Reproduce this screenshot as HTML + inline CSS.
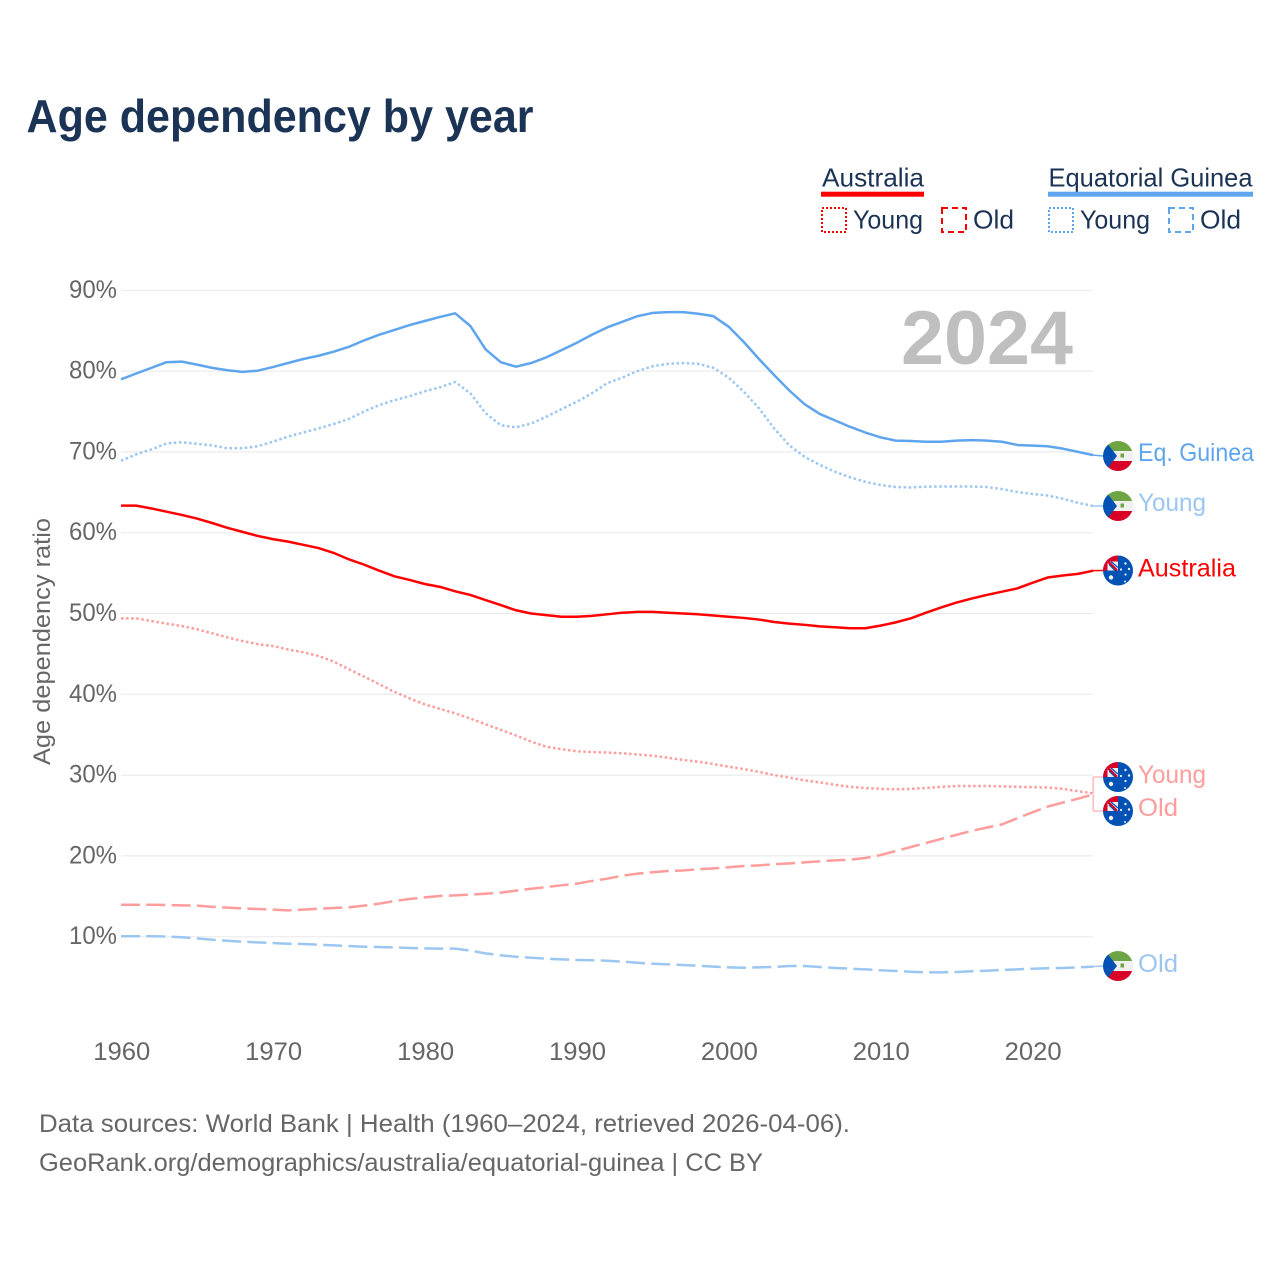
<!DOCTYPE html>
<html lang="en">
<head>
<meta charset="utf-8">
<title>Age dependency by year</title>
<style>
html,body{margin:0;padding:0;background:#fff;}
svg{display:block;}
text{font-family:"Liberation Sans",sans-serif;}
</style>
</head>
<body>
<svg id="chart" xmlns="http://www.w3.org/2000/svg" width="1280" height="1280" viewBox="0 0 1280 1280">
  <defs>
    <clipPath id="flag-clip"><circle cx="0" cy="0" r="15"></circle></clipPath>
    <symbol id="flag-eq" overflow="visible">
      <g clip-path="url(#flag-clip)">
        <rect x="-15" y="-15" width="30" height="10" fill="#6da544"></rect>
        <rect x="-15" y="-5" width="30" height="10" fill="#f0f0f0"></rect>
        <rect x="-15" y="5" width="30" height="10" fill="#d80027"></rect>
        <polygon points="-15,-15 -11,-13 -1,0 -11,13 -15,15" fill="#0052b4"></polygon>
        <rect x="2.5" y="-2.5" width="3.5" height="4" fill="#6da544"></rect>
      </g>
    </symbol>
    <symbol id="flag-au" overflow="visible">
      <g clip-path="url(#flag-clip)">
        <rect x="-15" y="-15" width="30" height="30" fill="#0052b4"></rect>
        <rect x="-15" y="-15" width="15" height="15" fill="#f0f0f0"></rect>
        <rect x="-15" y="-15" width="15" height="6" fill="#d80027"></rect>
        <rect x="-15" y="-15" width="4.5" height="15" fill="#d80027"></rect>
        <path d="M-10,-9 L-1,0" stroke="#d80027" stroke-width="2.5"></path>
        <path d="M-7,-9 L0,-3 M-9,-6 L-3,0" stroke="#0052b4" stroke-width="1.2"></path>
        <circle cx="-7" cy="7" r="2.2" fill="#f0f0f0"></circle>
        <circle cx="3" cy="-1" r="1.1" fill="#f0f0f0"></circle>
        <circle cx="7.5" cy="-7" r="1.2" fill="#f0f0f0"></circle>
        <circle cx="11" cy="-1.5" r="1.2" fill="#f0f0f0"></circle>
        <circle cx="7.5" cy="4" r="1.1" fill="#f0f0f0"></circle>
        <circle cx="7" cy="11" r="1" fill="#f0f0f0"></circle>
      </g>
    </symbol>
  </defs>

  <rect x="0" y="0" width="1280" height="1280" fill="#ffffff"></rect>

  <text x="26.5" y="132" font-size="46" font-weight="700" fill="#1b3354" textLength="507" lengthAdjust="spacingAndGlyphs">Age dependency by year</text>

  <g>
    <text x="822" y="186.5" font-size="26" fill="#1b3354" textLength="102" lengthAdjust="spacingAndGlyphs">Australia</text>
    <rect x="821" y="191.7" width="103" height="5" fill="#ff0000"></rect>
    <rect x="822" y="208" width="24" height="24" fill="none" stroke="#ff0000" stroke-width="2" stroke-dasharray="2 2"></rect>
    <text x="853" y="228.5" font-size="26" fill="#1b3354" textLength="70" lengthAdjust="spacingAndGlyphs">Young</text>
    <rect x="942" y="208" width="24" height="24" fill="none" stroke="#ff0000" stroke-width="2" stroke-dasharray="6 4"></rect>
    <text x="973" y="228.5" font-size="26" fill="#1b3354" textLength="41" lengthAdjust="spacingAndGlyphs">Old</text>

    <text x="1048.5" y="186.5" font-size="26" fill="#1b3354" textLength="204" lengthAdjust="spacingAndGlyphs">Equatorial Guinea</text>
    <rect x="1048" y="191.7" width="205" height="5" fill="#5fa5ee"></rect>
    <rect x="1049" y="208" width="24" height="24" fill="none" stroke="#5fa5ee" stroke-width="2" stroke-dasharray="2 2"></rect>
    <text x="1080" y="228.5" font-size="26" fill="#1b3354" textLength="70" lengthAdjust="spacingAndGlyphs">Young</text>
    <rect x="1169" y="208" width="24" height="24" fill="none" stroke="#5fa5ee" stroke-width="2" stroke-dasharray="6 4"></rect>
    <text x="1200" y="228.5" font-size="26" fill="#1b3354" textLength="41" lengthAdjust="spacingAndGlyphs">Old</text>
  </g>

  <g id="grid"></g>
  <g id="y-axis"></g>
  <g id="x-axis"></g>

  <text transform="translate(50 641.5) rotate(-90)" text-anchor="middle" font-size="24" fill="#666666" textLength="247" lengthAdjust="spacingAndGlyphs">Age dependency ratio</text>

  <text x="901" y="364" font-size="76" font-weight="700" fill="#bfbfbf" textLength="172" lengthAdjust="spacingAndGlyphs">2024</text>

  <g id="series"></g>
  <g id="end-labels"></g>

  <text x="39" y="1132" font-size="25" fill="#666666" textLength="811" lengthAdjust="spacingAndGlyphs">Data sources: World Bank | Health (1960–2024, retrieved 2026-04-06).</text>
  <text x="39" y="1171" font-size="25" fill="#666666" textLength="724" lengthAdjust="spacingAndGlyphs">GeoRank.org/demographics/australia/equatorial-guinea | CC BY</text>
</svg>

<script>
const firstYear = 1960;
const xTickYears = [1960, 1970, 1980, 1990, 2000, 2010, 2020];
const yTickValues = [10, 20, 30, 40, 50, 60, 70, 80, 90];

const eqGuineaTotal = [78.98,79.7,80.4,81.1,81.17,80.8,80.4,80.1,79.9,80.05,80.5,81.0,81.5,81.9,82.4,83.0,83.8,84.5,85.1,85.7,86.2,86.7,87.15,85.58,82.7,81.1,80.55,81.0,81.7,82.6,83.5,84.5,85.4,86.1,86.8,87.2,87.3,87.3,87.1,86.8,85.5,83.6,81.5,79.5,77.6,75.9,74.7,73.9,73.1,72.4,71.8,71.4,71.35,71.26,71.26,71.4,71.45,71.4,71.26,70.86,70.77,70.7,70.4,70.0,69.6];
const eqGuineaYoung = [68.9,69.7,70.3,71.05,71.2,71.0,70.8,70.45,70.45,70.7,71.26,71.9,72.4,72.9,73.45,74.07,75.0,75.8,76.4,76.9,77.5,78.0,78.65,77.25,74.8,73.3,73.05,73.5,74.35,75.3,76.2,77.25,78.5,79.2,80.0,80.6,80.9,81.0,80.9,80.4,79.2,77.45,75.4,72.9,70.8,69.4,68.4,67.55,66.85,66.3,65.9,65.65,65.6,65.7,65.72,65.72,65.72,65.65,65.4,65.03,64.8,64.6,64.2,63.7,63.3];
const eqGuineaOld = [10.05,10.05,10.05,10.02,9.93,9.8,9.63,9.5,9.38,9.3,9.22,9.13,9.1,9.01,8.93,8.85,8.76,8.72,8.68,8.6,8.56,8.52,8.52,8.27,7.94,7.7,7.52,7.4,7.28,7.2,7.12,7.08,7.03,6.91,6.78,6.66,6.58,6.5,6.41,6.29,6.21,6.16,6.21,6.25,6.37,6.37,6.25,6.13,6.04,5.96,5.84,5.76,5.67,5.59,5.59,5.63,5.72,5.79,5.88,5.96,6.04,6.09,6.13,6.21,6.29];
const australiaTotal = [63.35,63.35,63.0,62.6,62.2,61.75,61.2,60.6,60.1,59.6,59.2,58.9,58.5,58.1,57.5,56.7,56.05,55.3,54.6,54.15,53.65,53.3,52.75,52.3,51.67,51.05,50.4,50.0,49.8,49.6,49.6,49.7,49.9,50.1,50.2,50.2,50.1,50.0,49.9,49.75,49.6,49.45,49.25,48.95,48.75,48.6,48.4,48.3,48.17,48.17,48.5,48.9,49.4,50.1,50.75,51.35,51.85,52.3,52.7,53.1,53.8,54.45,54.7,54.9,55.3];
const australiaYoung = [49.4,49.4,49.07,48.75,48.45,48.05,47.55,47.05,46.6,46.2,45.98,45.55,45.2,44.75,44.05,43.1,42.2,41.25,40.3,39.5,38.75,38.2,37.65,37.0,36.3,35.6,34.9,34.15,33.5,33.2,32.95,32.85,32.8,32.7,32.55,32.4,32.15,31.87,31.66,31.37,31.04,30.75,30.4,30.0,29.7,29.35,29.1,28.8,28.55,28.4,28.3,28.24,28.3,28.4,28.55,28.65,28.65,28.65,28.6,28.55,28.5,28.47,28.3,28.0,27.75];
const australiaOld = [13.96,13.96,13.96,13.92,13.88,13.84,13.7,13.6,13.5,13.43,13.35,13.26,13.35,13.47,13.55,13.63,13.84,14.09,14.42,14.67,14.87,15.04,15.12,15.2,15.32,15.45,15.7,15.94,16.15,16.36,16.56,16.9,17.18,17.55,17.8,17.97,18.13,18.2,18.34,18.46,18.59,18.75,18.83,18.96,19.08,19.2,19.33,19.45,19.53,19.74,20.1,20.6,21.1,21.6,22.1,22.6,23.1,23.5,23.9,24.65,25.4,26.1,26.6,27.08,27.62];

const SVG_NS = 'http://www.w3.org/2000/svg';
function xScale(year) { return 121 + (year - 1960) * 15.19; }
function yScale(value) { return 1017.5 - value * 8.08; }
function make(tag, attrs, parent) {
  const el = document.createElementNS(SVG_NS, tag);
  for (const k in attrs) el.setAttribute(k, attrs[k]);
  parent.appendChild(el);
  return el;
}
function pathFor(values) {
  return values.map(function (v, i) {
    return (i ? 'L' : 'M') + xScale(firstYear + i).toFixed(2) + ' ' + yScale(v).toFixed(2);
  }).join(' ');
}

const gridGroup = document.getElementById('grid');
const yAxisGroup = document.getElementById('y-axis');
const xAxisGroup = document.getElementById('x-axis');
yTickValues.forEach(function (v) {
  const line = make('line', { x1: 121, x2: 1093, y1: yScale(v), y2: yScale(v), stroke: '#e8e8e8', 'stroke-width': 1 }, gridGroup);
  
  
  const label = make('text', { x: 117, y: yScale(v) + 7.5, 'text-anchor': 'end', 'font-size': 25, fill: '#666666', textLength: 48, lengthAdjust: 'spacingAndGlyphs' }, yAxisGroup);
  
  
  label.textContent = v + '%';
});
xTickYears.forEach(function (y) {
  const label = make('text', { x: xScale(y) + 0.8, y: 1060, 'text-anchor': 'middle', 'font-size': 25, fill: '#666666', textLength: 57, lengthAdjust: 'spacingAndGlyphs' }, xAxisGroup);
  
  
  label.textContent = String(y);
});

const seriesGroup = document.getElementById('series');
const labelGroup = document.getElementById('end-labels');
function drawSeries(name, values, color, dash) {
  const p = make('path', { d: pathFor(values), fill: 'none', stroke: color, 'stroke-width': 2.5, 'stroke-linejoin': 'round' }, seriesGroup);
  if (dash) p.setAttribute('stroke-dasharray', dash);
  
  
}
function drawEnd(name, values, color, flag, labelY, text, width, bracket, textOffset) {
  const endY = yScale(values[values.length - 1]);
  const endX = xScale(firstYear + values.length - 1);
  const d = bracket
    ? 'M' + endX + ' ' + labelY + ' L1103 ' + labelY + ' M' + endX + ' ' + labelY + ' L' + endX + ' ' + endY
    : 'M' + endX + ' ' + endY + ' L1103 ' + labelY;
  const c = make('path', { d: d, fill: 'none', stroke: color, 'stroke-width': bracket ? 1 : 1.5 }, labelGroup);
  
  
  const f = make('use', { href: '#' + flag, x: 1118, y: labelY }, labelGroup);
  
  
  const t = make('text', { x: 1138, y: labelY + textOffset, 'font-size': 25, fill: color, textLength: width, lengthAdjust: 'spacingAndGlyphs' }, labelGroup);
  
  
  t.textContent = text;
}

const DOT = '2.5 2.6';
const DASH = '19 6.3';
drawSeries('line-eq-guinea-total', eqGuineaTotal, '#5fa5ee', null);
drawSeries('line-eq-guinea-young', eqGuineaYoung, '#9cc6f2', DOT);
drawSeries('line-eq-guinea-old', eqGuineaOld, '#9cc6f2', DASH);
drawSeries('line-australia-total', australiaTotal, '#ff0000', null);
drawSeries('line-australia-young', australiaYoung, '#ff9c9c', DOT);
drawSeries('line-australia-old', australiaOld, '#ff9c9c', DASH);

drawEnd('end-eq-guinea-total', eqGuineaTotal, '#5fa5ee', 'flag-eq', 456, 'Eq. Guinea', 116, false, 5);
drawEnd('end-eq-guinea-young', eqGuineaYoung, '#9cc6f2', 'flag-eq', 506, 'Young', 68, false, 5);
drawEnd('end-australia-total', australiaTotal, '#ff0000', 'flag-au', 570.5, 'Australia', 98, false, 6);
drawEnd('end-australia-young', australiaYoung, '#ff9c9c', 'flag-au', 777, 'Young', 68, true, 6);
drawEnd('end-australia-old', australiaOld, '#ff9c9c', 'flag-au', 811, 'Old', 40, true, 5);
drawEnd('end-eq-guinea-old', eqGuineaOld, '#9cc6f2', 'flag-eq', 966, 'Old', 40, false, 6);
</script>
</body>
</html>
